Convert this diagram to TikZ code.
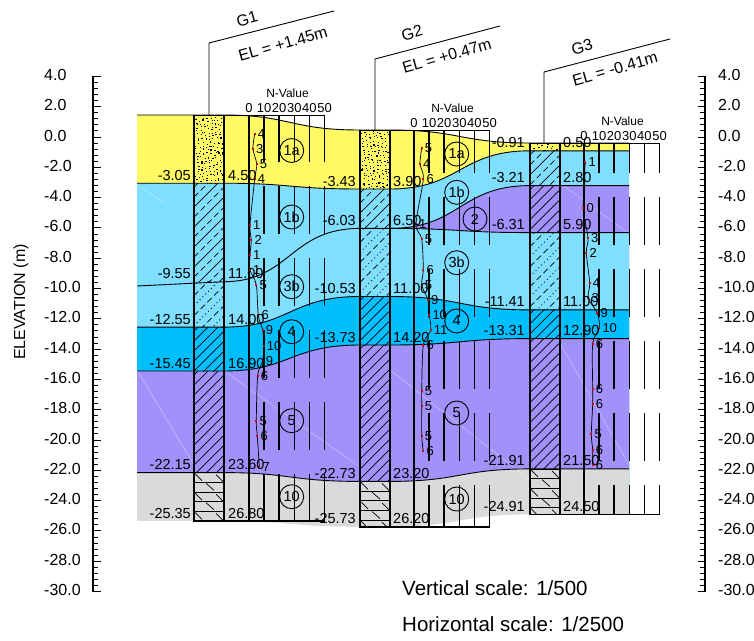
\documentclass[tikz,border=0pt]{standalone}
\usepackage{fontspec}
\setmainfont{Liberation Sans}
\usepackage{xcolor}

\definecolor{soilyellow}{RGB}{255,250,100}
\definecolor{soilsky}{RGB}{128,222,255}
\definecolor{soildeep}{RGB}{0,191,255}
\definecolor{soilviolet}{RGB}{160,146,250}
\definecolor{soilgrey}{RGB}{218,218,218}

\tikzset{
  bndline/.style={draw=black, line width=0.9pt},
  colline/.style={draw=black, line width=1.4pt},
  gridline/.style={draw=black, line width=1.6pt},
  leader/.style={draw=black, line width=0.9pt},
  streak/.style={draw=white, line width=0.4pt, opacity=0.5},
  hatchsolid/.style={draw=black, line width=0.7pt},
  hatchdash/.style={draw=black, line width=0.7pt, dash pattern=on 6pt off 3.5pt},
  hatchdot/.style={draw=black, line width=0.8pt, dash pattern=on 1pt off 3pt},
  axislab/.style={font=\fontsize{16}{18}\selectfont, anchor=west, inner sep=0pt},
  ellab/.style={font=\fontsize{14.5}{16}\selectfont, inner sep=0pt},
  nlab/.style={font=\fontsize{13}{15}\selectfont, anchor=west, inner sep=0pt},
  ntick/.style={font=\fontsize{13}{15}\selectfont, inner sep=0pt},
  ntitle/.style={font=\fontsize{12}{14}\selectfont, inner sep=0pt},
  soilcirc/.style={draw=black, circle, line width=0.9pt, minimum size=24pt, inner sep=0pt, font=\fontsize{14.5}{16}\selectfont},
  bhtitle/.style={font=\fontsize{16}{18}\selectfont, rotate=16, inner sep=0pt},
  scalelab/.style={font=\fontsize{20.5}{22}\selectfont, anchor=west, inner sep=0pt},
}

% layer boundary: left end, G1, G2, G3
\newcommand{\bnd}[4]{(137,#1) -- (224,#2) .. controls (290,#2) and (290,#3) .. (360,#3) -- (390,#3) .. controls (460,#3) and (460,#4) .. (530,#4) -- (629,#4)}

% diagonal hatch in a column, two line styles in turn
\newcommand{\hatchcol}[6]{
  \begin{scope}
    \clip (#1,#3) rectangle (#2,#4);
    \foreach \i in {0,1,...,18}{
      \pgfmathsetmacro{\kk}{#1+#3+\i*10+4}
      \ifodd\i
        \draw[#6] (#1,\kk-#1) -- (#2,\kk-#2);
      \else
        \draw[#5] (#1,\kk-#1) -- (#2,\kk-#2);
      \fi
    }
  \end{scope}
}

% dots of the sand layer
\newcommand{\specklecol}[5]{
  \begin{scope}
    \clip (#1,#3) rectangle (#2,#4);
    \foreach \i in {1,...,#5}{
      \pgfmathsetmacro{\px}{#1+mod(\i*11.3,#2-#1)+rnd*2}
      \pgfmathsetmacro{\py}{#3+(#4-#3)*\i/#5+rnd*3-1.5}
      \fill[black] (\px,\py) rectangle +(1.3,1.1);
    }
  \end{scope}
}

% clay: rows with short ticks
\newcommand{\claycol}[4]{
  \begin{scope}
    \clip (#1,#3) rectangle (#2,#4);
    \foreach \i in {0,1,...,5}{
      \pgfmathsetmacro{\yr}{#3+\i*9.7}
      \draw[hatchsolid] (#1,\yr) -- (#2,\yr);
      \ifodd\i
        \draw[hatchsolid] (#1+12,\yr+1) -- ++(8,7);
      \else
        \draw[hatchsolid] (#1+1,\yr+1) -- ++(7,7);
        \draw[hatchsolid] (#1+22,\yr+2) -- ++(7,7);
      \fi
    }
  \end{scope}
}

% N-value scale: x of N=0, top, bottom, dash phase, prefix
\newcommand{\nchart}[5]{
  \draw[gridline] (#1,#2) -- (#1,#3);
  \foreach \n in {1,...,5}{
    \draw[gridline, dash pattern=on 48pt off 24pt, dash phase=#4pt] (#1+\n*15.1,#2) -- (#1+\n*15.1,#3);
  }
  \foreach \n in {0,1,...,5}{
    \pgfmathtruncatemacro{\nv}{\n*10}
    \node[ntick] (#5tick\n) at (#1+\n*15.1,#2-7) {\nv};
  }
  \node[ntitle] (#5ntitle) at (#1+38.5,#2-21.5) {N-Value};
}

\begin{document}
\begin{tikzpicture}[x=1pt, y=-1pt]
  \useasboundingbox (0,0) rectangle (754,640);
  \pgfmathsetseed{4711}

  % soil layers, top to bottom
  \fill[soilyellow] \bnd{115}{115}{130}{143} -- (629,600) -- (137,600) -- cycle;
  \fill[soilsky] \bnd{183.2}{183.2}{189}{150.8} -- (629,600) -- (137,600) -- cycle;
  \fill[soilviolet] (390,228.4) .. controls (460,228.4) and (460,185.6) .. (530,185.6) -- (629,185.6) -- (629,600) -- (390,600) -- cycle;
  \fill[soilsky] \bnd{286}{281.7}{228.4}{232.6} -- (629,600) -- (137,600) -- cycle;
  \fill[soildeep] \bnd{327.1}{327.1}{296.5}{309.9} -- (629,600) -- (137,600) -- cycle;
  \fill[soilviolet] \bnd{371}{371}{345}{338.6} -- (629,600) -- (137,600) -- cycle;
  \fill[soilgrey] \bnd{472.6}{472.6}{481.4}{468.9} -- (629,600) -- (137,600) -- cycle;
  \fill[white] (130,521) -- \bnd{521}{521}{526.8}{514.4} -- (640,514.4) -- (640,610) -- (130,610) -- cycle;
  \draw[streak] (137,185) -- (165,203);
  \draw[streak] (137,370) -- (194,465);
  \draw[streak] (227,373) -- (360,467);
  \draw[streak] (390,370) -- (530,480);
  \draw[streak] (560,183) -- (628,233);
  \draw[streak] (560,343) -- (628,463);

  % column G1
  \specklecol{194}{224}{115}{183.2}{170}
  \hatchcol{194}{224}{183.2}{281.7}{hatchsolid}{hatchdash}
  \hatchcol{194}{224}{281.7}{327.1}{hatchdot}{hatchdash}
  \hatchcol{194}{224}{327.1}{371}{hatchsolid}{hatchsolid}
  \hatchcol{194}{224}{371}{472.6}{hatchsolid}{hatchsolid}
  \claycol{194}{224}{472.6}{521}

  % column G2
  \specklecol{360}{390}{130}{189}{150}
  \hatchcol{360}{390}{189}{228.4}{hatchsolid}{hatchdash}
  \hatchcol{360}{390}{228.4}{296.5}{hatchdot}{hatchdash}
  \hatchcol{360}{390}{296.5}{345}{hatchsolid}{hatchsolid}
  \hatchcol{360}{390}{345}{481.4}{hatchsolid}{hatchsolid}
  \claycol{360}{390}{481.4}{526.8}

  % column G3
  \specklecol{530}{559}{143}{150.8}{18}
  \hatchcol{530}{559}{150.8}{185.6}{hatchsolid}{hatchdash}
  \hatchcol{530}{559}{185.6}{232.6}{hatchsolid}{hatchsolid}
  \hatchcol{530}{559}{232.6}{309.9}{hatchdot}{hatchdash}
  \hatchcol{530}{559}{309.9}{338.6}{hatchsolid}{hatchsolid}
  \hatchcol{530}{559}{338.6}{468.9}{hatchsolid}{hatchsolid}
  \claycol{530}{559}{468.9}{514.4}

  % layer boundaries
  \draw[bndline] \bnd{115}{115}{130}{143};
  \draw[bndline] \bnd{183.2}{183.2}{189}{150.8};
  \draw[bndline] (390,228.4) .. controls (460,228.4) and (460,185.6) .. (530,185.6) -- (629,185.6);
  \draw[bndline] \bnd{286}{281.7}{228.4}{232.6};
  \draw[bndline] \bnd{327.1}{327.1}{296.5}{309.9};
  \draw[bndline] \bnd{371}{371}{345}{338.6};
  \draw[bndline] \bnd{472.6}{472.6}{481.4}{468.9};

  % column frames and scales
  \foreach \cx/\ct/\cb/\ce in {194/115/521/324.5, 360/130/526.8/490, 530/143/514.4/659.5}{
    \draw[colline] (\cx,\ct) -- (\cx,\cb) -- (\cx+30,\cb) -- (\cx+30,\ct);
    \draw[bndline] (\cx,\ct) -- (\ce,\ct);
    \draw[colline] (\cx,\cb) -- (\ce,\cb);
  }
  \nchart{249}{115}{521}{1}{ga}
  \nchart{414}{130}{526.8}{5}{gb}
  \nchart{584}{143}{514.4}{18}{gc}

  % borehole titles
  \draw[leader] (209,115) -- (209,43) -- (334,11);
  \draw[leader] (375,130) -- (375,59) -- (500,26);
  \draw[leader] (544,143) -- (544,72) -- (670,39);
  \node[bhtitle] (ganame) at (247,19) {G1};
  \node[bhtitle] (gael) at (283,44) {EL = +1.45m};
  \node[bhtitle] (gbname) at (412,33) {G2};
  \node[bhtitle] (gbel) at (447,56) {EL = +0.47m};
  \node[bhtitle] (gcname) at (582,47) {G3};
  \node[bhtitle] (gcel) at (615,69) {EL = -0.41m};

  % N-value curves
  \draw[black, line width=0.7pt] plot[smooth, tension=0.5] coordinates {(254.7,134) (253,149) (256.7,164) (254.7,179.3) (250,225) (251.3,240) (250,254.7) (250,270) (256.3,285) (258.3,315.3) (262.7,330.3) (263.7,345.7) (262.7,360.7) (257.7,375.7) (256.3,421) (257.3,436) (259.3,466.7)};
  \draw[black, line width=0.7pt] plot[smooth, tension=0.5] coordinates {(421.7,148.3) (420,164) (423.3,179) (416,224) (421.7,239) (423.3,269.7) (421.7,285) (428,300) (429.3,315) (430.7,330) (423.3,345.3) (421.7,390.7) (421.7,406) (421.7,436) (423.3,451.3)};
  \draw[black, line width=0.7pt] plot[smooth, tension=0.5] coordinates {(585.3,162) (583.3,207.7) (588,238) (586.3,252.7) (589.7,283) (588.3,298) (597.3,313) (599.3,328) (592.7,343.7) (592.7,389) (592.7,404) (591.3,434.3) (592.7,449.7) (592.7,465)};
  \foreach \px/\py/\nv [count=\c] in {254.7/134/4, 253/149/3, 256.7/164/5, 254.7/179.3/4, 250/225/1, 251.3/240/2, 250/254.7/1, 250/270/1, 256.3/285/5, 258.3/315.3/6, 262.7/330.3/9, 263.7/345.7/10, 262.7/360.7/9, 257.7/375.7/6, 256.3/421/5, 257.3/436/6, 259.3/466.7/7, 421.7/148.3/5, 420/164/4, 423.3/179/6, 416/224/1, 421.7/239/5, 423.3/269.7/6, 421.7/285/5, 428/300/9, 429.3/315/10, 430.7/330/11, 423.3/345.3/6, 421.7/390.7/5, 421.7/406/5, 421.7/436/5, 423.3/451.3/6, 585.3/162/1, 583.3/207.7/0, 588/238/3, 586.3/252.7/2, 589.7/283/4, 588.3/298/3, 597.3/313/9, 599.3/328/10, 592.7/343.7/6, 592.7/389/6, 592.7/404/6, 591.3/434.3/5, 592.7/449.7/6, 592.7/465/6}{
    \fill[red!85!black] (\px-1,\py-1) rectangle +(2,2);
    \node[nlab] (npt\c) at (\px+3,\py) {\nv};
  }

  % layer symbols
  \node[soilcirc] (ga1a) at (291.7,150.5) {1a};
  \node[soilcirc] (ga1b) at (291.7,217) {1b};
  \node[soilcirc] (ga3b) at (291.7,286.7) {3b};
  \node[soilcirc] (ga4) at (291.7,331.7) {4};
  \node[soilcirc] (ga5) at (291.7,420.7) {5};
  \node[soilcirc] (ga10) at (291.7,496.7) {10};
  \node[soilcirc] (gb1a) at (456.7,154) {1a};
  \node[soilcirc] (gb1b) at (456.7,192.3) {1b};
  \node[soilcirc] (gb2) at (475,219) {2};
  \node[soilcirc] (gb3b) at (456.7,262.7) {3b};
  \node[soilcirc] (gb4) at (456.7,321) {4};
  \node[soilcirc] (gb5) at (456.7,413) {5};
  \node[soilcirc] (gb10) at (456.7,499) {10};

  % elevations and depths
  \foreach \yy/\txt [count=\c] in {183.2/-3.05, 281.7/-9.55, 327.1/-12.55, 371/-15.45, 472.6/-22.15, 521/-25.35}{
    \node[ellab, anchor=base east] (elg\c) at (191,\yy-3) {\txt};
  }
  \foreach \yy/\txt [count=\c] in {183.2/4.50, 281.7/11.00, 327.1/14.00, 371/16.90, 472.6/23.60, 521/26.80}{
    \node[ellab, anchor=base west] (dpg\c) at (228,\yy-3) {\txt};
  }
  \foreach \yy/\txt [count=\c] in {189/-3.43, 228.4/-6.03, 296.5/-10.53, 345/-13.73, 481.4/-22.73, 526.8/-25.73}{
    \node[ellab, anchor=base east] (elm\c) at (356,\yy-3) {\txt};
  }
  \foreach \yy/\txt [count=\c] in {189/3.90, 228.4/6.50, 296.5/11.00, 345/14.20, 481.4/23.20, 526.8/26.20}{
    \node[ellab, anchor=base west] (dpm\c) at (393,\yy-3) {\txt};
  }
  \foreach \yy/\txt [count=\c] in {150.8/-0.91, 185.6/-3.21, 232.6/-6.31, 309.9/-11.41, 338.6/-13.31, 468.9/-21.91, 514.4/-24.91}{
    \node[ellab, anchor=base east] (elr\c) at (525,\yy-3) {\txt};
  }
  \foreach \yy/\txt [count=\c] in {150.8/0.50, 185.6/2.80, 232.6/5.90, 309.9/11.00, 338.6/12.90, 468.9/21.50, 514.4/24.50}{
    \node[ellab, anchor=base west] (dpr\c) at (563,\yy-3) {\txt};
  }

  % elevation axes
  \draw[colline] (101,76.4) -- (93,76.4) -- (93,591.5) -- (101,591.5);
  \draw[colline] (698,76.4) -- (705,76.4) -- (705,591.5) -- (698,591.5);
  \foreach \t in {1,...,84}{
    \draw[black, line width=0.9pt] (93,76.4+\t*6.06) -- (98,76.4+\t*6.06);
    \draw[black, line width=0.9pt] (705,76.4+\t*6.06) -- (700,76.4+\t*6.06);
  }
  \foreach \e in {4,2,...,-30}{
    \draw[black, line width=1pt] (93,137-15.15*\e) -- (101,137-15.15*\e);
    \draw[black, line width=1pt] (705,137-15.15*\e) -- (698,137-15.15*\e);
    \node[axislab] (lax\e) at (44,135.5-15.15*\e) {\e.0};
    \node[axislab] (rax\e) at (718,135.5-15.15*\e) {\e.0};
  }
  \node[font=\fontsize{16}{18}\selectfont, rotate=90, inner sep=0pt] (elevlab) at (21,302) {ELEVATION (m)};

  % scales
  \node[scalelab] (vscale) at (402,588) {Vertical scale: 1/500};
  \node[scalelab] (hscale) at (402,624) {Horizontal scale: 1/2500};
\end{tikzpicture}
\end{document}
